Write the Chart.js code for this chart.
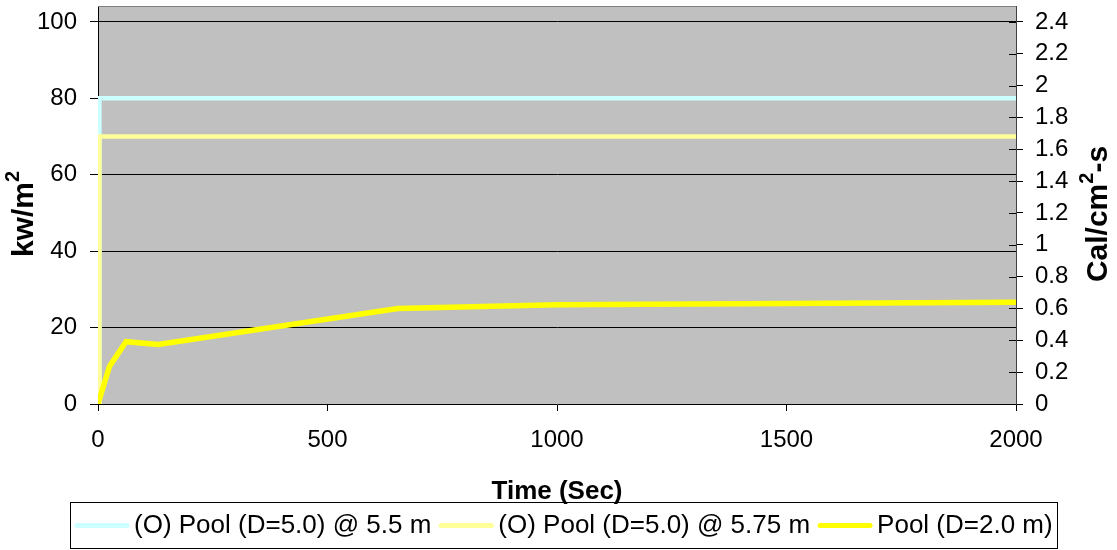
<!DOCTYPE html>
<html>
<head>
<meta charset="utf-8">
<script src="https://cdn.jsdelivr.net/npm/chart.js@4/dist/chart.umd.min.js"></script>
<style>
  html, body { margin: 0; padding: 0; background: #fff; }
  canvas { display: block; }
</style>
</head>
<body>
<canvas id="c" width="1117" height="550"></canvas>
<script>
// Series names
const seriesLabels = ['(O) Pool (D=5.0) @ 5.5 m', '(O) Pool (D=5.0) @ 5.75 m', 'Pool (D=2.0 m)'];
const seriesColors = ['#ccffff', '#ffff99', '#ffff00'];

// Heat flux (kW/m²) against time (s)
const pool55Time = [3, 3, 2000];
const pool55Flux = [0, 80, 80];
const pool575Time = [3, 3, 2000];
const pool575Flux = [0, 70, 70];
const pool2Time = [0, 25, 61, 131, 653, 1000, 2000];
const pool2Flux = [0, 9.8, 16.3, 15.6, 25.0, 26.0, 26.6];

// Axis ticks
const timeTicks = [0, 500, 1000, 1500, 2000];
const fluxTicks = [0, 20, 40, 60, 80, 100];
const calTicks = [0, 0.2, 0.4, 0.6, 0.8, 1, 1.2, 1.4, 1.6, 1.8, 2, 2.2, 2.4];

const CAL_MAX = 2.5;
const KW_PER_CAL = 1 / 0.024;           // 1 cal/cm²-s ≈ 41.67 kW/m²
const FONT = '"Liberation Sans", Arial, sans-serif';

const toPoints = (xs, ys) => xs.map((x, i) => ({ x, y: ys[i] }));

// keep the plot box fixed: no extra room reserved for end labels
function noEdgePadding(s) {
  s.paddingTop = 0;
  s.paddingBottom = 0;
  s.paddingLeft = 0;
  s.paddingRight = 0;
}

function drawRotatedTitle(ctx, parts, cx, cy, size) {
  ctx.save();
  ctx.translate(cx, cy);
  ctx.rotate(-Math.PI / 2);
  ctx.fillStyle = '#000';
  ctx.textBaseline = 'middle';
  const baseFont = 'bold ' + size + 'px ' + FONT;
  const supFont = 'bold ' + Math.round(size * 0.66) + 'px ' + FONT;
  let total = 0;
  parts.forEach(p => {
    ctx.font = p.sup ? supFont : baseFont;
    p.w = ctx.measureText(p.t).width;
    total += p.w;
  });
  let x = -total / 2;
  parts.forEach(p => {
    ctx.font = p.sup ? supFont : baseFont;
    ctx.fillText(p.t, x, p.sup ? -size * 0.38 : 0);
    x += p.w;
  });
  ctx.restore();
}

const decor = {
  id: 'decor',
  beforeDraw(chart) {
    const { ctx, chartArea: a } = chart;
    ctx.save();
    ctx.fillStyle = '#c0c0c0';
    ctx.fillRect(a.left, a.top, a.right - a.left, a.bottom - a.top);
    ctx.restore();
  },
  afterDraw(chart) {
    const { ctx, chartArea: a } = chart;
    ctx.save();
    // frame top edge
    ctx.strokeStyle = '#808080';
    ctx.lineWidth = 1;
    ctx.beginPath();
    ctx.moveTo(a.left, a.top + 0.5);
    ctx.lineTo(a.right, a.top + 0.5);
    ctx.stroke();

    // right axis tick marks reaching into the plot
    const yr = chart.scales.yCal;
    ctx.strokeStyle = '#000';
    ctx.beginPath();
    calTicks.forEach(v => {
      const y = Math.round(yr.getPixelForValue(v)) + 0.5;
      ctx.moveTo(a.right - 7, y);
      ctx.lineTo(a.right, y);
    });
    ctx.stroke();
    ctx.restore();

    // axis titles with superscripts
    drawRotatedTitle(ctx, [{ t: 'kw/m' }, { t: '2', sup: true }], 25, 214, 30);
    drawRotatedTitle(ctx, [{ t: 'Cal/cm' }, { t: '2', sup: true }, { t: '-s' }], 1099, 214, 30);

    // legend
    const box = { x: 70.5, y: 502.5, w: 987, h: 46 };
    ctx.save();
    ctx.strokeStyle = '#000';
    ctx.lineWidth = 1;
    ctx.strokeRect(box.x, box.y, box.w, box.h);
    ctx.font = '26px ' + FONT;
    ctx.textBaseline = 'middle';
    ctx.fillStyle = '#000';
    const cy = box.y + box.h / 2;
    let x = 77;
    chart.data.datasets.forEach(ds => {
      ctx.strokeStyle = ds.borderColor;
      ctx.lineWidth = 5;
      ctx.lineCap = 'round';
      ctx.beginPath();
      ctx.moveTo(x, cy);
      ctx.lineTo(x + 50, cy);
      ctx.stroke();
      x += 57;
      ctx.fillText(ds.label, x, cy);
      x += ctx.measureText(ds.label).width + 10;
    });
    ctx.restore();
  }
};

new Chart(document.getElementById('c'), {
  type: 'line',
  data: {
    datasets: [
      { label: seriesLabels[0], data: toPoints(pool55Time, pool55Flux), borderColor: seriesColors[0], borderWidth: 4.5, order: 3 },
      { label: seriesLabels[1], data: toPoints(pool575Time, pool575Flux), borderColor: seriesColors[1], borderWidth: 4.5, order: 2 },
      { label: seriesLabels[2], data: toPoints(pool2Time, pool2Flux), borderColor: seriesColors[2], borderWidth: 5.5, order: 1 }
    ]
  },
  options: {
    responsive: false,
    animation: false,
    events: [],
    layout: { padding: { top: 6, left: 0, right: 0, bottom: 0 } },
    elements: {
      point: { radius: 0 },
      line: { tension: 0, borderCapStyle: 'square', borderJoinStyle: 'miter', fill: false }
    },
    plugins: { legend: { display: false }, tooltip: { enabled: false } },
    scales: {
      x: {
        type: 'linear',
        position: 'bottom',
        min: 0,
        max: 2000,
        afterBuildTicks: s => { s.ticks = timeTicks.map(v => ({ value: v })); },
        afterFit: s => { s.height = 146; noEdgePadding(s); },
        grid: { drawOnChartArea: false, drawTicks: true, tickLength: 7, color: '#000', tickColor: '#000' },
        border: { display: true, color: '#000', width: 1 },
        ticks: { color: '#000', font: { family: FONT, size: 24 }, padding: 15, maxRotation: 0, autoSkip: false, callback: v => String(v) },
        title: { display: true, text: 'Time (Sec)', color: '#000', font: { family: FONT, size: 26, weight: 'bold' }, padding: { top: 0, bottom: 43 } }
      },
      y: {
        type: 'linear',
        position: 'left',
        min: 0,
        max: CAL_MAX * KW_PER_CAL,
        afterBuildTicks: s => { s.ticks = fluxTicks.map(v => ({ value: v })); },
        afterFit: s => { s.width = 98; noEdgePadding(s); },
        grid: {
          color: c => (c.tick && c.tick.value === 0 ? 'rgba(0,0,0,0)' : '#000'),
          tickColor: '#000',
          tickLength: 8,
          lineWidth: 1
        },
        border: { display: true, color: '#000', width: 1 },
        ticks: { color: '#000', font: { family: FONT, size: 24 }, padding: 13, autoSkip: false, callback: v => String(v) }
      },
      yCal: {
        type: 'linear',
        position: 'right',
        min: 0,
        max: CAL_MAX,
        afterBuildTicks: s => { s.ticks = calTicks.map(v => ({ value: v })); },
        afterFit: s => { s.width = 101; noEdgePadding(s); },
        grid: { drawOnChartArea: false, tickColor: '#000', tickLength: 7 },
        border: { display: true, color: '#404040', width: 1 },
        ticks: { color: '#000', font: { family: FONT, size: 24 }, padding: 12, autoSkip: false, callback: v => String(+v.toFixed(1)) }
      }
    }
  },
  plugins: [decor]
});
</script>
</body>
</html>
